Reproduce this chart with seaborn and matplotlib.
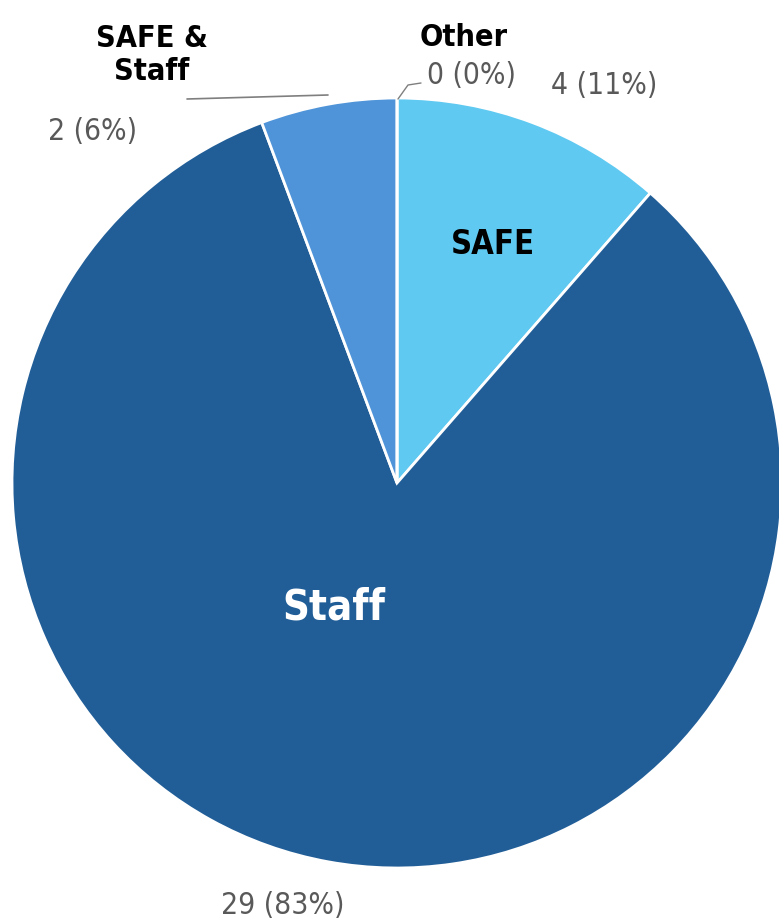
import matplotlib
matplotlib.use("Agg")
import matplotlib.pyplot as plt
import seaborn as sns

sns.set_theme(style="white")
plt.rcParams['font.family'] = ['DejaVu Sans']

categories = ["SAFE", "Staff", "SAFE & Staff", "Other"]
values = [4, 29, 2, 0]
colors = ["#5FC9F1", "#215E98", "#4F94D8", "#A0A0A0"]

total = sum(values)
W, H = 779, 923
fig = plt.figure(figsize=(W / 100, H / 100), dpi=100)
ax = fig.add_axes([0, 0, 1, 1])
ax.set_xlim(0, W)
ax.set_ylim(0, H)
ax.set_aspect("equal")
ax.axis("off")

cx, cy, R = 397, H - 483, 385
wedges, _ = ax.pie(values, colors=colors, startangle=90, counterclock=False,
                   center=(cx, cy), radius=R,
                   wedgeprops=dict(edgecolor="white", linewidth=2))
ax.set_xlim(0, W)
ax.set_ylim(0, H)

def lab(i):
    pct = round(100 * values[i] / total)
    return f"{values[i]} ({pct}%)"

gray = "#595959"
vkw = dict(ha="center", va="center", fontsize=21.5, color=gray,
           fontstretch="condensed")
bkw = dict(ha="center", va="center", fontsize=22, fontweight="bold",
           color="black", fontstretch="condensed")
# SAFE
ax.text(493, H - 245, categories[0], **{**bkw, "fontsize": 23.5})
ax.text(604, H - 86, lab(0), **vkw)
# Staff
ax.text(334, H - 607, categories[1], ha="center", va="center", fontsize=30,
        fontweight="bold", color="white", fontstretch="condensed")
ax.text(283, H - 906, lab(1), **vkw)
# SAFE & Staff
ax.text(152, H - 55, "SAFE &\nStaff", linespacing=1.2, **bkw)
ax.text(93, H - 131, lab(2), **vkw)
ax.plot([187, 328], [H - 99, H - 95], color="#7F7F7F", lw=1.2)
# Other
ax.text(464, H - 38, categories[3], **bkw)
ax.text(472, H - 76, lab(3), **vkw)
ax.plot([398, 408, 421], [H - 99, H - 85, H - 83], color="#7F7F7F", lw=1)

fig.savefig("out.png", dpi=100)
